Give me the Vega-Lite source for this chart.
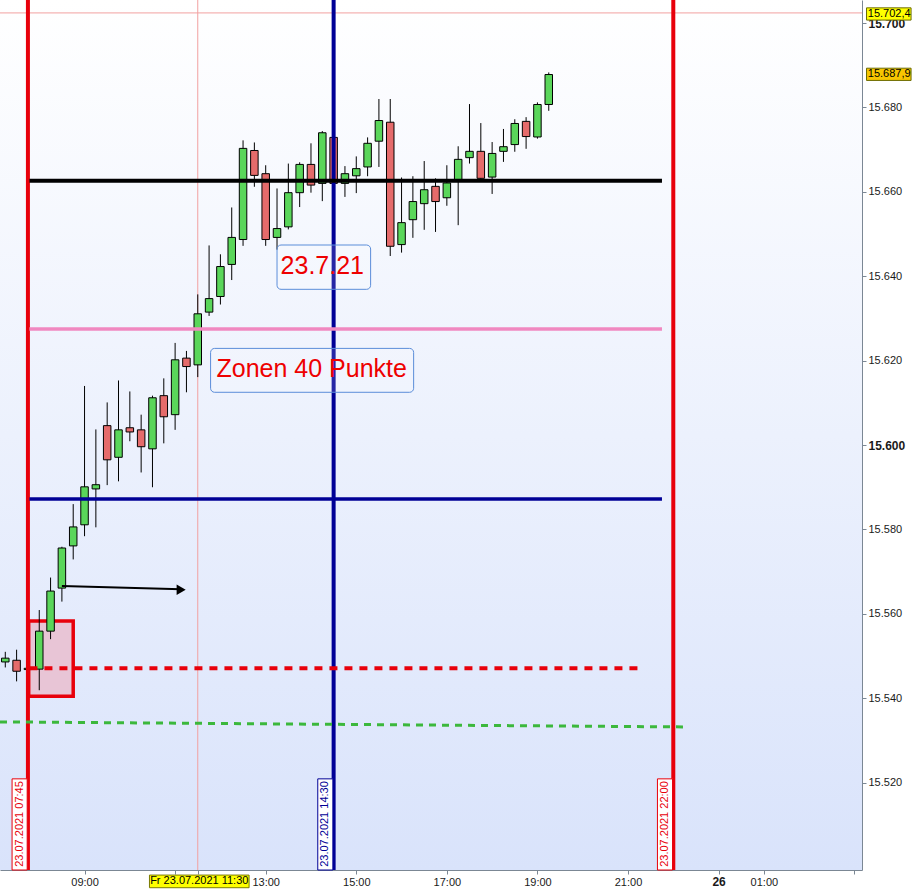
{
  "$schema": "https://vega.github.io/schema/vega-lite/v6.json",
  "width": 862,
  "height": 870,
  "autosize": "none",
  "padding": {"left": 0, "top": 0, "right": 51, "bottom": 23},
  "background": "#ffffff",
  "config": {
    "view": {"stroke": null},
    "font": "Liberation Sans"
  },
  "datasets": {
    "candles": [
      {"t": "2021-07-23T07:15", "open": 15548.6, "high": 15551.0, "low": 15547.3, "close": 15549.5},
      {"t": "2021-07-23T07:30", "open": 15549.0, "high": 15551.5, "low": 15544.0, "close": 15546.4},
      {"t": "2021-07-23T07:45", "open": 15546.8, "high": 15547.5, "low": 15546.3, "close": 15547.1},
      {"t": "2021-07-23T08:00", "open": 15546.9, "high": 15560.9, "low": 15541.9, "close": 15555.9},
      {"t": "2021-07-23T08:15", "open": 15555.9, "high": 15568.6, "low": 15554.0, "close": 15565.4},
      {"t": "2021-07-23T08:30", "open": 15566.1, "high": 15575.9, "low": 15562.9, "close": 15575.6},
      {"t": "2021-07-23T08:45", "open": 15576.1, "high": 15586.0, "low": 15572.9, "close": 15580.6},
      {"t": "2021-07-23T09:00", "open": 15581.1, "high": 15614.0, "low": 15578.4, "close": 15590.1},
      {"t": "2021-07-23T09:15", "open": 15589.6, "high": 15603.7, "low": 15580.5, "close": 15590.6},
      {"t": "2021-07-23T09:30", "open": 15604.6, "high": 15610.1, "low": 15590.5, "close": 15596.5},
      {"t": "2021-07-23T09:45", "open": 15597.1, "high": 15615.3, "low": 15591.4, "close": 15603.6},
      {"t": "2021-07-23T10:00", "open": 15604.1, "high": 15612.7, "low": 15600.9, "close": 15603.1},
      {"t": "2021-07-23T10:15", "open": 15603.6, "high": 15607.2, "low": 15593.5, "close": 15599.6},
      {"t": "2021-07-23T10:30", "open": 15599.1, "high": 15611.7, "low": 15590.0, "close": 15611.2},
      {"t": "2021-07-23T10:45", "open": 15611.7, "high": 15615.8, "low": 15600.4, "close": 15606.7},
      {"t": "2021-07-23T11:00", "open": 15607.2, "high": 15624.2, "low": 15603.6, "close": 15620.2},
      {"t": "2021-07-23T11:15", "open": 15620.6, "high": 15622.3, "low": 15612.5, "close": 15618.6},
      {"t": "2021-07-23T11:30", "open": 15619.0, "high": 15635.7, "low": 15616.1, "close": 15631.1},
      {"t": "2021-07-23T11:45", "open": 15631.5, "high": 15647.3, "low": 15630.6, "close": 15634.7},
      {"t": "2021-07-23T12:00", "open": 15635.2, "high": 15645.2, "low": 15633.3, "close": 15642.3},
      {"t": "2021-07-23T12:15", "open": 15642.8, "high": 15656.3, "low": 15639.1, "close": 15649.2},
      {"t": "2021-07-23T12:30", "open": 15648.7, "high": 15672.2, "low": 15647.2, "close": 15670.3},
      {"t": "2021-07-23T12:45", "open": 15669.8, "high": 15671.7, "low": 15661.2, "close": 15663.9},
      {"t": "2021-07-23T13:00", "open": 15664.3, "high": 15666.3, "low": 15647.2, "close": 15648.7},
      {"t": "2021-07-23T13:15", "open": 15649.2, "high": 15660.8, "low": 15646.3, "close": 15651.3},
      {"t": "2021-07-23T13:30", "open": 15651.7, "high": 15666.7, "low": 15651.1, "close": 15659.8},
      {"t": "2021-07-23T13:45", "open": 15659.8, "high": 15667.0, "low": 15656.4, "close": 15666.5},
      {"t": "2021-07-23T14:00", "open": 15666.5, "high": 15671.5, "low": 15659.8, "close": 15661.6},
      {"t": "2021-07-23T14:15", "open": 15662.0, "high": 15674.4, "low": 15657.8, "close": 15674.0},
      {"t": "2021-07-23T14:30", "open": 15672.9, "high": 15673.2, "low": 15661.6, "close": 15662.0},
      {"t": "2021-07-23T14:45", "open": 15662.0, "high": 15666.1, "low": 15658.8, "close": 15664.3},
      {"t": "2021-07-23T15:00", "open": 15663.8, "high": 15668.4, "low": 15659.7, "close": 15665.5},
      {"t": "2021-07-23T15:15", "open": 15665.9, "high": 15672.9, "low": 15663.7, "close": 15671.5},
      {"t": "2021-07-23T15:30", "open": 15672.0, "high": 15682.0, "low": 15665.9, "close": 15676.9},
      {"t": "2021-07-23T15:45", "open": 15676.5, "high": 15682.0, "low": 15644.8, "close": 15647.1},
      {"t": "2021-07-23T16:00", "open": 15647.5, "high": 15663.4, "low": 15645.6, "close": 15652.7},
      {"t": "2021-07-23T16:15", "open": 15653.4, "high": 15663.7, "low": 15649.1, "close": 15657.7},
      {"t": "2021-07-23T16:30", "open": 15657.2, "high": 15667.3, "low": 15651.0, "close": 15660.5},
      {"t": "2021-07-23T16:45", "open": 15661.3, "high": 15663.2, "low": 15650.5, "close": 15657.7},
      {"t": "2021-07-23T17:00", "open": 15658.6, "high": 15666.3, "low": 15656.7, "close": 15662.1},
      {"t": "2021-07-23T17:15", "open": 15662.9, "high": 15670.8, "low": 15652.1, "close": 15667.7},
      {"t": "2021-07-23T17:30", "open": 15668.1, "high": 15680.8, "low": 15666.7, "close": 15669.6},
      {"t": "2021-07-23T17:45", "open": 15669.6, "high": 15676.3, "low": 15662.8, "close": 15663.2},
      {"t": "2021-07-23T18:00", "open": 15663.5, "high": 15671.8, "low": 15659.5, "close": 15669.1},
      {"t": "2021-07-23T18:15", "open": 15669.6, "high": 15674.9, "low": 15667.1, "close": 15670.7},
      {"t": "2021-07-23T18:30", "open": 15671.2, "high": 15677.2, "low": 15669.5, "close": 15676.2},
      {"t": "2021-07-23T18:45", "open": 15676.7, "high": 15677.7, "low": 15670.2, "close": 15673.1},
      {"t": "2021-07-23T19:00", "open": 15673.0, "high": 15681.2, "low": 15672.6, "close": 15680.7},
      {"t": "2021-07-23T19:15", "open": 15680.7, "high": 15688.3, "low": 15679.2, "close": 15687.8}
    ]
  },
  "layer": [
    {
      "data": {"values": [{}]},
      "mark": {
        "type": "rect",
        "color": {
          "gradient": "linear", "x1": 0, "y1": 0, "x2": 0, "y2": 1,
          "stops": [{"offset": 0, "color": "#ffffff"}, {"offset": 1, "color": "#d9e3fb"}]
        }
      },
      "encoding": {
        "x": {
          "datum": {"year": 2021, "month": 7, "date": 23, "hours": 7, "minutes": 8},
          "type": "temporal",
          "title": null,
          "scale": {
            "domain": [
              {"year": 2021, "month": 7, "date": 23, "hours": 7, "minutes": 8},
              {"year": 2021, "month": 7, "date": 24, "hours": 2, "minutes": 10}
            ],
            "nice": false,
            "padding": 0
          },
          "axis": {
            "orient": "bottom",
            "title": null,
            "grid": false,
            "values": [
              {"year": 2021, "month": 7, "date": 23, "hours": 9},
              {"year": 2021, "month": 7, "date": 23, "hours": 11},
              {"year": 2021, "month": 7, "date": 23, "hours": 11, "minutes": 30},
              {"year": 2021, "month": 7, "date": 23, "hours": 13},
              {"year": 2021, "month": 7, "date": 23, "hours": 15},
              {"year": 2021, "month": 7, "date": 23, "hours": 17},
              {"year": 2021, "month": 7, "date": 23, "hours": 19},
              {"year": 2021, "month": 7, "date": 23, "hours": 21},
              {"year": 2021, "month": 7, "date": 23, "hours": 23},
              {"year": 2021, "month": 7, "date": 24, "hours": 0},
              {"year": 2021, "month": 7, "date": 24, "hours": 2}
            ],
            "labelExpr": "hours(datum.value) == 23 ? '26' : hours(datum.value) == 0 ? '01:00' : (hours(datum.value) == 11 || hours(datum.value) == 2) ? '' : timeFormat(datum.value, '%H:%M')",
            "labelFontSize": {"condition": {"test": "hours(datum.value) == 23", "value": 12}, "value": 11},
            "labelFontWeight": {"condition": {"test": "hours(datum.value) == 23", "value": "bold"}, "value": "normal"},
            "labelColor": "#1a1a1a",
            "labelOverlap": false,
            "labelPadding": 2,
            "tickSize": 4,
            "tickColor": "#7b8794",
            "domainColor": "#7b8794"
          }
        },
        "x2": {"datum": {"year": 2021, "month": 7, "date": 24, "hours": 2, "minutes": 10}},
        "y": {
          "datum": 15705.46,
          "type": "quantitative",
          "title": null,
          "scale": {"domain": [15499.3, 15705.46], "nice": false, "zero": false, "padding": 0},
          "axis": {
            "orient": "right",
            "title": null,
            "grid": false,
            "values": [15520, 15540, 15560, 15580, 15600, 15620, 15640, 15660, 15680, 15700],
            "labelExpr": "replace(format(datum.value, ',d'), ',', '.')",
            "labelFontSize": {"condition": {"test": "datum.value % 100 == 0", "value": 12}, "value": 11},
            "labelFontWeight": {"condition": {"test": "datum.value % 100 == 0", "value": "bold"}, "value": "normal"},
            "labelColor": "#1a1a1a",
            "labelPadding": 2,
            "tickSize": 4,
            "tickColor": "#7b8794",
            "domainColor": "#7b8794"
          }
        },
        "y2": {"datum": 15499.3}
      }
    },
    {
      "data": {"values": [{"t": "2021-07-23T11:30"}]},
      "mark": {"type": "rule", "color": "#f2a0a0", "strokeWidth": 1},
      "encoding": {"x": {"field": "t", "type": "temporal", "title": null}}
    },
    {
      "data": {"values": [{"price": 15702.4}]},
      "mark": {"type": "rule", "color": "#f2a0a0", "strokeWidth": 1},
      "encoding": {"y": {"field": "price", "type": "quantitative", "title": null}}
    },
    {
      "data": {"values": [{"from": "2021-07-23T07:46", "to": "2021-07-23T08:45", "top": 15558.3, "bottom": 15540.5}]},
      "mark": {"type": "rect", "fill": "#e8c5d6", "stroke": "#e8000b", "strokeWidth": 3.5},
      "encoding": {
        "x": {"field": "from", "type": "temporal", "title": null},
        "x2": {"field": "to"},
        "y": {"field": "top", "type": "quantitative", "title": null},
        "y2": {"field": "bottom"}
      }
    },
    {
      "data": {"name": "candles"},
      "mark": {"type": "rule", "color": "#000000", "strokeWidth": 1},
      "encoding": {
        "x": {"field": "t", "type": "temporal", "title": null},
        "y": {"field": "low", "type": "quantitative", "title": null},
        "y2": {"field": "high"}
      }
    },
    {
      "data": {"name": "candles"},
      "mark": {"type": "bar", "width": 7.5, "stroke": "#000000", "strokeWidth": 1},
      "encoding": {
        "x": {"field": "t", "type": "temporal", "title": null},
        "y": {"field": "open", "type": "quantitative", "title": null},
        "y2": {"field": "close"},
        "color": {"condition": {"test": "datum.close < datum.open", "value": "#e56b6b"}, "value": "#5ad65a"}
      }
    },
    {
      "data": {"values": [{"t": "2021-07-23T07:45"}, {"t": "2021-07-23T22:00"}]},
      "mark": {"type": "rule", "color": "#e8000b", "strokeWidth": 4},
      "encoding": {"x": {"field": "t", "type": "temporal", "title": null}}
    },
    {
      "data": {"values": [{"t": "2021-07-23T14:30"}]},
      "mark": {"type": "rule", "color": "#000096", "strokeWidth": 4},
      "encoding": {"x": {"field": "t", "type": "temporal", "title": null}}
    },
    {
      "data": {"values": [{"from": "2021-07-23T07:47", "to": "2021-07-23T21:45", "price": 15662.6}]},
      "mark": {"type": "rule", "color": "#000000", "strokeWidth": 4},
      "encoding": {
        "x": {"field": "from", "type": "temporal", "title": null},
        "x2": {"field": "to"},
        "y": {"field": "price", "type": "quantitative", "title": null}
      }
    },
    {
      "data": {"values": [{"from": "2021-07-23T07:47", "to": "2021-07-23T21:45", "price": 15627.5}]},
      "mark": {"type": "rule", "color": "#f088c0", "strokeWidth": 3.5},
      "encoding": {
        "x": {"field": "from", "type": "temporal", "title": null},
        "x2": {"field": "to"},
        "y": {"field": "price", "type": "quantitative", "title": null}
      }
    },
    {
      "data": {"values": [{"from": "2021-07-23T07:47", "to": "2021-07-23T21:45", "price": 15587.2}]},
      "mark": {"type": "rule", "color": "#000096", "strokeWidth": 3.5},
      "encoding": {
        "x": {"field": "from", "type": "temporal", "title": null},
        "x2": {"field": "to"},
        "y": {"field": "price", "type": "quantitative", "title": null}
      }
    },
    {
      "data": {"values": [{"from": "2021-07-23T07:47", "to": "2021-07-23T21:15", "price": 15547.1}]},
      "mark": {"type": "rule", "color": "#e8000b", "strokeWidth": 4, "strokeDash": [8, 7]},
      "encoding": {
        "x": {"field": "from", "type": "temporal", "title": null},
        "x2": {"field": "to"},
        "y": {"field": "price", "type": "quantitative", "title": null}
      }
    },
    {
      "data": {"values": [{"from": "2021-07-23T07:08", "to": "2021-07-23T22:17", "p1": 15534.4, "p2": 15533.2}]},
      "mark": {"type": "rule", "color": "#3cb83c", "strokeWidth": 3, "strokeDash": [7, 6]},
      "encoding": {
        "x": {"field": "from", "type": "temporal", "title": null},
        "x2": {"field": "to"},
        "y": {"field": "p1", "type": "quantitative", "title": null},
        "y2": {"field": "p2"}
      }
    },
    {
      "data": {"values": [{"from": "2021-07-23T08:30", "to": "2021-07-23T11:08", "p1": 15566.6, "p2": 15565.8}]},
      "mark": {"type": "rule", "color": "#000000", "strokeWidth": 2},
      "encoding": {
        "x": {"field": "from", "type": "temporal", "title": null},
        "x2": {"field": "to"},
        "y": {"field": "p1", "type": "quantitative", "title": null},
        "y2": {"field": "p2"}
      }
    },
    {
      "data": {"values": [{"t": "2021-07-23T11:08", "price": 15565.7}]},
      "mark": {"type": "point", "shape": "triangle-right", "filled": true, "color": "#000000", "size": 110, "opacity": 1},
      "encoding": {
        "x": {"field": "t", "type": "temporal", "title": null},
        "y": {"field": "price", "type": "quantitative", "title": null}
      }
    },
    {
      "data": {"values": [
        {"from": "2021-07-23T07:24", "to": "2021-07-23T07:44", "mid": "2021-07-23T07:34", "label": "23.07.2021 07:45"},
        {"from": "2021-07-23T21:39", "to": "2021-07-23T21:59", "mid": "2021-07-23T21:49", "label": "23.07.2021 22:00"}
      ]},
      "layer": [
        {
          "mark": {"type": "rect", "fill": "#ffffff", "stroke": "#e8000b", "strokeWidth": 1},
          "encoding": {
            "x": {"field": "from", "type": "temporal", "title": null},
            "x2": {"field": "to"},
            "y": {"datum": 15520.9, "type": "quantitative"},
            "y2": {"datum": 15499.3}
          }
        },
        {
          "mark": {"type": "text", "angle": 270, "fontSize": 11, "color": "#e8000b", "align": "center", "baseline": "middle"},
          "encoding": {
            "x": {"field": "mid", "type": "temporal", "title": null},
            "y": {"datum": 15510.2, "type": "quantitative"},
            "text": {"field": "label"}
          }
        }
      ]
    },
    {
      "data": {"values": [
        {"from": "2021-07-23T14:09", "to": "2021-07-23T14:29", "mid": "2021-07-23T14:19", "label": "23.07.2021 14:30"}
      ]},
      "layer": [
        {
          "mark": {"type": "rect", "fill": "#ffffff", "stroke": "#000096", "strokeWidth": 1},
          "encoding": {
            "x": {"field": "from", "type": "temporal", "title": null},
            "x2": {"field": "to"},
            "y": {"datum": 15520.9, "type": "quantitative"},
            "y2": {"datum": 15499.3}
          }
        },
        {
          "mark": {"type": "text", "angle": 270, "fontSize": 11, "color": "#000096", "align": "center", "baseline": "middle"},
          "encoding": {
            "x": {"field": "mid", "type": "temporal", "title": null},
            "y": {"datum": 15510.2, "type": "quantitative"},
            "text": {"field": "label"}
          }
        }
      ]
    },
    {
      "data": {"values": [
        {"from": "2021-07-23T13:15", "to": "2021-07-23T15:19", "top": 15647.4, "bottom": 15636.9, "mid": "2021-07-23T14:15", "base": 15640.5, "label": "23.7.21"},
        {"from": "2021-07-23T11:47", "to": "2021-07-23T16:16", "top": 15622.9, "bottom": 15612.5, "mid": "2021-07-23T14:01", "base": 15616.2, "label": "Zonen 40 Punkte"}
      ]},
      "layer": [
        {
          "mark": {"type": "rect", "fill": "#ffffff", "fillOpacity": 0.15, "stroke": "#5b8dd9", "strokeWidth": 1, "cornerRadius": 4},
          "encoding": {
            "x": {"field": "from", "type": "temporal", "title": null},
            "x2": {"field": "to"},
            "y": {"field": "top", "type": "quantitative", "title": null},
            "y2": {"field": "bottom"}
          }
        },
        {
          "mark": {"type": "text", "fontSize": 25, "color": "#ee0000", "align": "center", "baseline": "alphabetic"},
          "encoding": {
            "x": {"field": "mid", "type": "temporal", "title": null},
            "y": {"field": "base", "type": "quantitative", "title": null},
            "text": {"field": "label"}
          }
        }
      ]
    },
    {
      "data": {"values": [{"from": "2021-07-23T10:26", "to": "2021-07-23T12:38", "mid": "2021-07-23T11:32", "top": 15498.1, "bottom": 15495.1, "center": 15496.6, "label": "Fr 23.07.2021 11:30"}]},
      "layer": [
        {
          "mark": {"type": "rect", "fill": "#ffff00", "stroke": "#7a7a00", "strokeWidth": 1},
          "encoding": {
            "x": {"field": "from", "type": "temporal", "title": null},
            "x2": {"field": "to"},
            "y": {"field": "top", "type": "quantitative", "title": null},
            "y2": {"field": "bottom"}
          }
        },
        {
          "mark": {"type": "text", "fontSize": 11, "color": "#000000", "align": "center", "baseline": "middle"},
          "encoding": {
            "x": {"field": "mid", "type": "temporal", "title": null},
            "y": {"field": "center", "type": "quantitative", "title": null},
            "text": {"field": "label"}
          }
        }
      ]
    },
    {
      "data": {"values": [
        {"from": "2021-07-24T02:16", "to": "2021-07-24T03:15", "mid": "2021-07-24T02:46", "top": 15703.6, "bottom": 15700.7, "center": 15702.15, "label": "15.702,4", "kind": "cross"},
        {"from": "2021-07-24T02:16", "to": "2021-07-24T03:15", "mid": "2021-07-24T02:46", "top": 15689.3, "bottom": 15686.4, "center": 15687.85, "label": "15.687,9", "kind": "last"}
      ]},
      "layer": [
        {
          "mark": {"type": "rect", "stroke": "#6b6b00", "strokeWidth": 1},
          "encoding": {
            "x": {"field": "from", "type": "temporal", "title": null},
            "x2": {"field": "to"},
            "y": {"field": "top", "type": "quantitative", "title": null},
            "y2": {"field": "bottom"},
            "fill": {"condition": {"test": "datum.kind == 'cross'", "value": "#ffff00"}, "value": "#f7c600"}
          }
        },
        {
          "mark": {"type": "text", "fontSize": 11, "color": "#000000", "align": "center", "baseline": "middle"},
          "encoding": {
            "x": {"field": "mid", "type": "temporal", "title": null},
            "y": {"field": "center", "type": "quantitative", "title": null},
            "text": {"field": "label"}
          }
        }
      ]
    }
  ]
}
